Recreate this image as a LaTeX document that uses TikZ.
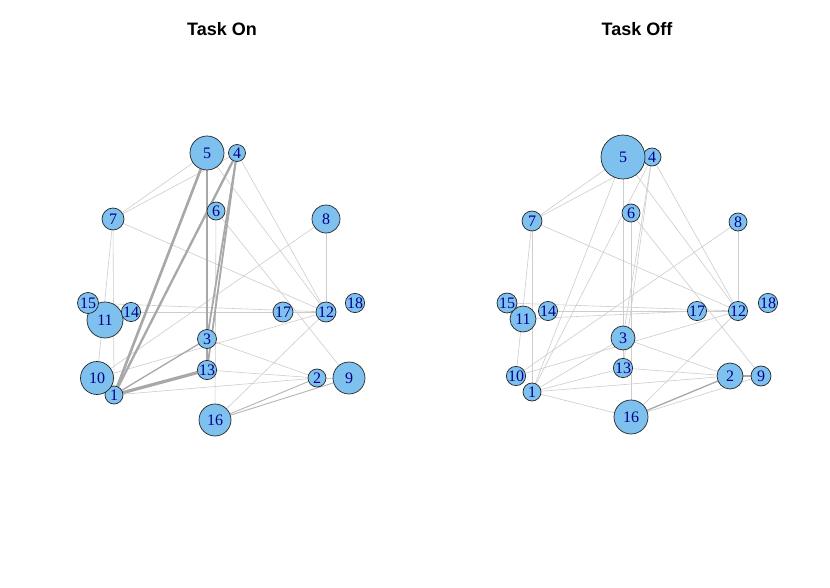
\documentclass[tikz,border=0pt]{standalone}
\usepackage{fontspec}
\setmainfont{Liberation Serif}
\newfontfamily\titlefont{Liberation Sans}
\usetikzlibrary{backgrounds}
\definecolor{skyb}{HTML}{7EC0EE}
\definecolor{dblue}{HTML}{00008B}
\definecolor{thinedge}{RGB}{205,205,205}
\definecolor{thickedge}{RGB}{168,168,168}
\tikzset{
  vtx/.style={circle, draw=black!85, line width=0.7pt, fill=skyb, inner sep=0pt,
    text=dblue, font=\fontsize{16}{16}\selectfont},
  thin edge/.style={draw=thinedge, line width=0.6pt},
  mid edge/.style={draw=thickedge!85, line width=0.9pt},
  thick edge/.style={draw=thickedge, line width=#1},
  ttl/.style={font=\titlefont\bfseries\fontsize{18}{18}\selectfont}
}
\begin{document}
\begin{tikzpicture}[x=1pt,y=-1pt]
\useasboundingbox (0,0) rectangle (830,588);
\node[ttl] (t1) at (222,29) {Task On};
\node[ttl] (t2) at (637,29) {Task Off};
% ---------- left nodes
\node[vtx, minimum size=18pt] (l1) at (114,395) {1};
\node[vtx, minimum size=18pt] (l2) at (317,378) {2};
\node[vtx, minimum size=19pt] (l3) at (207,339) {3};
\node[vtx, minimum size=17pt] (l4) at (237,153) {4};
\node[vtx, minimum size=34pt] (l5) at (207,153) {5};
\node[vtx, minimum size=18pt] (l6) at (216,211) {6};
\node[vtx, minimum size=22pt] (l7) at (113,219) {7};
\node[vtx, minimum size=28pt] (l8) at (326,219) {8};
\node[vtx, minimum size=32pt] (l9) at (349,378) {9};
\node[vtx, minimum size=33pt] (l10) at (97,378) {10};
\node[vtx, minimum size=36pt] (l11) at (105,320) {11};
\node[vtx, minimum size=20pt] (l12) at (326,312) {12};
\node[vtx, minimum size=18pt] (l13) at (207,370) {13};
\node[vtx, minimum size=18pt] (l14) at (131,312) {14};
\node[vtx, minimum size=21pt] (l15) at (88,303) {15};
\node[vtx, minimum size=32pt] (l16) at (215,420) {16};
\node[vtx, minimum size=20pt] (l17) at (283,312) {17};
\node[vtx, minimum size=18pt] (l18) at (355,303) {18};
% ---------- right nodes
\node[vtx, minimum size=18pt] (r1) at (532,392) {1};
\node[vtx, minimum size=26pt] (r2) at (730,376) {2};
\node[vtx, minimum size=24pt] (r3) at (623,338) {3};
\node[vtx, minimum size=18pt] (r4) at (652,157) {4};
\node[vtx, minimum size=44pt] (r5) at (623,157) {5};
\node[vtx, minimum size=18pt] (r6) at (631,213) {6};
\node[vtx, minimum size=20pt] (r7) at (532,221) {7};
\node[vtx, minimum size=18pt] (r8) at (738,222) {8};
\node[vtx, minimum size=20pt] (r9) at (761,376) {9};
\node[vtx, minimum size=18pt] (r10) at (516,376) {10};
\node[vtx, minimum size=26pt] (r11) at (523,319) {11};
\node[vtx, minimum size=18pt] (r12) at (738,311) {12};
\node[vtx, minimum size=18pt] (r13) at (623,368) {13};
\node[vtx, minimum size=18pt] (r14) at (548,311) {14};
\node[vtx, minimum size=20pt] (r15) at (507,303) {15};
\node[vtx, minimum size=34pt] (r16) at (631,417) {16};
\node[vtx, minimum size=18pt] (r17) at (697,311) {17};
\node[vtx, minimum size=18pt] (r18) at (768,303) {18};
% ---------- edges
\begin{scope}[on background layer]
  \fill[white] (0,0) rectangle (830,588);
  % left thin
  \foreach \a/\b in {6/16,5/7,4/7,7/10,7/1,7/12,5/12,4/12,6/9,8/12,8/10,10/12,
                     12/16,17/12,15/12,14/17,3/2,13/2,1/2,2/9}
    \draw[thin edge] (l\a) -- (l\b);
  \foreach \a/\b in {16/2,16/9}
    \draw[mid edge] (l\a) -- (l\b);
  \draw[thick edge=2.6pt] (l5) -- (l1);
  \draw[thick edge=2.3pt] (l4) -- (l1);
  \draw[thick edge=2.2pt] (l5) -- (l13);
  \draw[thick edge=1.8pt] (l4) -- (l3);
  \draw[thick edge=1.8pt] (l4) -- (l13);
  \draw[thick edge=2.4pt] (l3) -- (l13);
  \draw[thick edge=3.2pt] (l1) -- (l13);
  \draw[thick edge=1.3pt] (l1) -- (l3);
  % right thin
  \foreach \a/\b in {6/16,5/7,4/7,7/10,7/1,7/12,5/12,4/12,6/9,8/12,8/10,10/12,
                     12/16,17/12,15/12,14/17,11/17,3/2,13/2,1/2,16/9,1/16,
                     5/1,4/1,5/13,4/3,4/13,3/13,1/13,1/3}
    \draw[thin edge] (r\a) -- (r\b);
  \draw[thick edge=1.3pt] (r16) -- (r2);
  \draw[thick edge=2.5pt] (r2) -- (r9);
\end{scope}
\end{tikzpicture}
\end{document}
